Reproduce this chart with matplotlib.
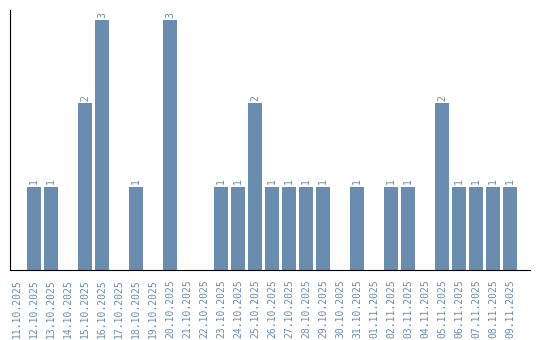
import matplotlib
matplotlib.use('Agg')
import matplotlib.pyplot as plt

# Дані
dates = ['11.10.2025', '12.10.2025', '13.10.2025', '14.10.2025', '15.10.2025',
         '16.10.2025', '17.10.2025', '18.10.2025', '19.10.2025', '20.10.2025',
         '21.10.2025', '22.10.2025', '23.10.2025', '24.10.2025', '25.10.2025',
         '26.10.2025', '27.10.2025', '28.10.2025', '29.10.2025', '30.10.2025',
         '31.10.2025', '01.11.2025', '02.11.2025', '03.11.2025', '04.11.2025',
         '05.11.2025', '06.11.2025', '07.11.2025', '08.11.2025', '09.11.2025']
counts = [0, 1, 1, 0, 2, 3, 0, 1, 0, 3,
          0, 0, 1, 1, 2, 1, 1, 1, 1, 0,
          1, 0, 1, 1, 0, 2, 1, 1, 1, 1]

bar_color = '#6a8caf'
text_color = '#6a8caf'

fig = plt.figure(figsize=(5.4, 3.4), dpi=100)
ax = fig.add_axes([10 / 540, 1 - 270 / 340, 520 / 540, 260 / 340])

x = list(range(len(dates)))
bars = ax.bar(x, counts, width=0.82, color=bar_color)

for xi, c in zip(x, counts):
    if c > 0:
        ax.text(xi, c + 0.03, str(c), rotation=90, ha='center', va='bottom',
                fontsize=7, family='DejaVu Sans Mono', color=text_color)

ax.set_xlim(-0.41, 30.18)
ax.set_ylim(0, 3.12)
ax.set_xticks(x)
ax.set_xticklabels(dates, rotation=90, fontsize=7, family='DejaVu Sans Mono',
                   color=text_color)
ax.tick_params(axis='x', length=0, pad=7)
ax.set_yticks([])
ax.spines['top'].set_visible(False)
ax.spines['right'].set_visible(False)

fig.savefig('out.png', dpi=100)
plt.close()
